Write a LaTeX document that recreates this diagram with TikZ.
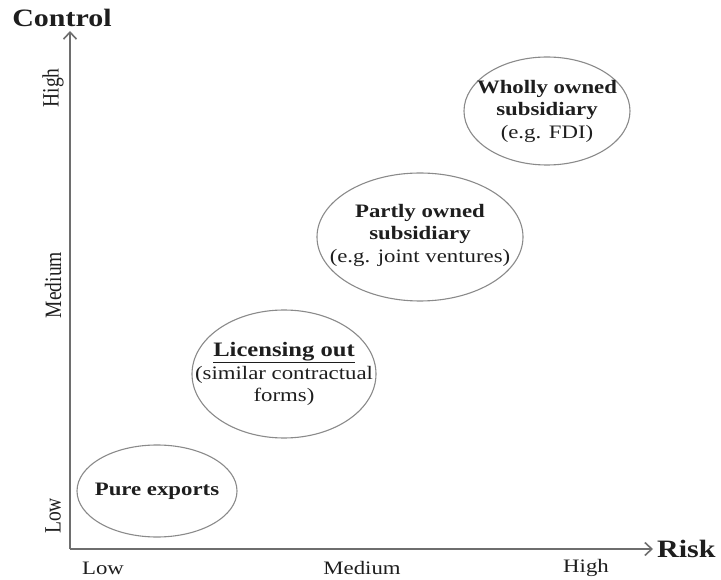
\documentclass[tikz,border=0pt]{standalone}
\usepackage{fontspec}
\usepackage{graphicx}
\setmainfont{Liberation Serif}[FakeStretch=1.2]
\newfontfamily\uprightserif{Liberation Serif}
\usetikzlibrary{shapes.geometric,arrows.meta}
\definecolor{inkc}{HTML}{1E1E1E}
\definecolor{axisc}{HTML}{6E6E6E}
\definecolor{rimc}{HTML}{8A8A8A}
\begin{document}
\begin{tikzpicture}[x=1pt,y=-1pt,
  axis/.style={draw=axisc,line width=2.2pt,-{Straight Barb[length=7pt,width=13pt,line width=1.6pt]}},
  bubble/.style={draw=rimc,line width=1.1pt,ellipse,inner sep=0pt},
  txt/.style={text=inkc,align=center,inner sep=0pt,font=\fontsize{19}{22.5}\selectfont},
  ticklbl/.style={text=inkc,inner sep=0pt,font=\fontsize{19}{22}\selectfont},
  sidelbl/.style={text=inkc,inner sep=0pt,rotate=90,font=\uprightserif\fontsize{19.5}{22}\selectfont},
  axtitle/.style={text=inkc,inner sep=0pt,font=\bfseries\fontsize{25}{28}\selectfont}]
\useasboundingbox (0,0) rectangle (721,580);

% axes
\coordinate (origin) at (70,549);
\coordinate (ytip) at (70,31);
\coordinate (xtip) at (653,549);
\draw[axis] (origin) -- (ytip);
\draw[axis] (origin) -- (xtip);

% axis titles
\node[axtitle] (ctl) at (62,18) {Control};
\node[axtitle,anchor=west] (rsk) at (657,549) {Risk};

% control levels
\node[sidelbl] (yhi) at (53,88) {\scalebox{1}[1.2]{High}};
\node[sidelbl] (ymid) at (53,285) {\scalebox{1}[1.2]{Medium}};
\node[sidelbl] (ylo) at (53,516) {\scalebox{1}[1.2]{Low}};

% risk levels
\node[ticklbl] (xlo) at (103,568) {Low};
\node[ticklbl] (xmid) at (362,568) {Medium};
\node[ticklbl] (xhi) at (586,568) {High};

% entry modes
\node[bubble,minimum width=160pt,minimum height=92pt] (pe) at (157,491) {};
\node[txt] (pet) at (pe) {\textbf{Pure exports}};

\node[bubble,minimum width=184pt,minimum height=128pt] (lo) at (284,374) {};
\node[txt] (lot) at (lo) {{\fontsize{20.5}{23}\selectfont\textbf{\underline{Licensing out}}}\\(similar contractual\\forms)};

\node[bubble,minimum width=206pt,minimum height=128pt] (po) at (420,237) {};
\node[txt] (pot) at (420,235) {\textbf{Partly owned}\\\textbf{subsidiary}\\(e.g. joint ventures)};

\node[bubble,minimum width=166pt,minimum height=108pt] (wo) at (547,111) {};
\node[txt] (wot) at (wo) {\textbf{Wholly owned}\\\textbf{subsidiary}\\(e.g. FDI)};
\end{tikzpicture}
\end{document}
